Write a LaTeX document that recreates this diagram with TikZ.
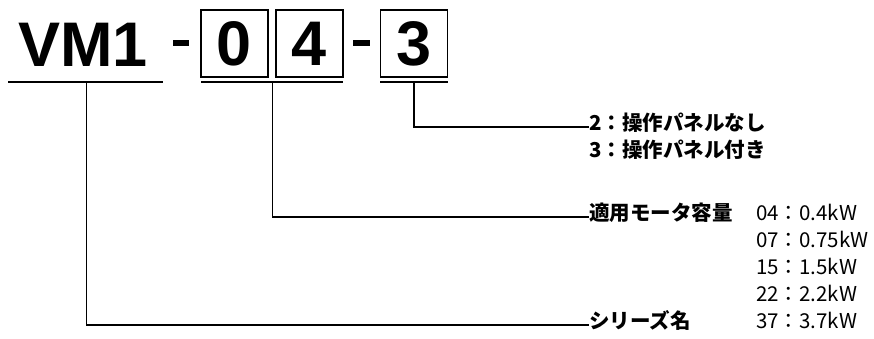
\documentclass[tikz,border=0pt]{standalone}
\usepackage{fontspec}
\setmainfont{Liberation Sans}
\newfontfamily\jp{Noto Sans CJK JP}
\begin{document}
\begin{tikzpicture}[x=1pt,y=-1pt,
  big/.style={font=\fontsize{63}{63}\selectfont\bfseries, inner sep=0pt},
  digitbox/.style={draw, line width=1.5pt, minimum width=67pt, minimum height=67pt, inner sep=0pt, font=\fontsize{63}{63}\selectfont\bfseries},
  lbl/.style={font=\jp\fontsize{20.5}{20.5}\selectfont, inner sep=0pt, anchor=west, text height=0.88em, text depth=0.12em},
  blbl/.style={lbl, font=\jp\fontsize{20.5}{20.5}\selectfont\bfseries},
  conn/.style={line width=1.1pt},
  uline/.style={line width=2.5pt},
  dashbar/.style={line width=6pt}]
\useasboundingbox (0,0) rectangle (874,338);

% model code
\node[big, anchor=base west] (vm) at (18,66) {VM1};
\node[digitbox] (b0) at (234.5,43.5) {0};
\node[digitbox] (b4) at (309.5,43.5) {4};
\node[digitbox] (b3) at (414,43.5) {3};

% dashes
\coordinate (d1a) at (173,43);
\coordinate (d1b) at (189,43);
\coordinate (d2a) at (353,43);
\coordinate (d2b) at (370,43);
\draw[dashbar] (d1a) -- (d1b);
\draw[dashbar] (d2a) -- (d2b);

% underlines
\coordinate (u1a) at (8,82);
\coordinate (u1b) at (163,82);
\coordinate (u2a) at (201,82);
\coordinate (u2b) at (343,82);
\coordinate (u3a) at (380,82);
\coordinate (u3b) at (448,82);
\draw[uline] (u1a) -- (u1b);
\draw[uline] (u2a) -- (u2b);
\draw[uline] (u3a) -- (u3b);

% connector start points
\coordinate (c1) at (86.5,82);
\coordinate (c2) at (272.5,82);
\coordinate (c3) at (414,82);

% labels
\node[blbl] (p2) at (589,127) {2：操作パネルなし};
\node[blbl] (p3) at (589,154) {3：操作パネル付き};
\node[blbl] (cap) at (589,217) {適用モータ容量};
\node[lbl] (k04) at (756,217) {04：0.4kW};
\node[lbl] (k07) at (756,244) {07：0.75kW};
\node[lbl] (k15) at (756,271) {15：1.5kW};
\node[lbl] (k22) at (756,298) {22：2.2kW};
\node[lbl] (k37) at (756,325) {37：3.7kW};
\node[blbl] (ser) at (589,325) {シリーズ名};

% connectors
\draw[conn] (c3) |- (p2.west);
\draw[conn] (c2) |- (cap.west);
\draw[conn] (c1) |- (ser.west);
\end{tikzpicture}
\end{document}
